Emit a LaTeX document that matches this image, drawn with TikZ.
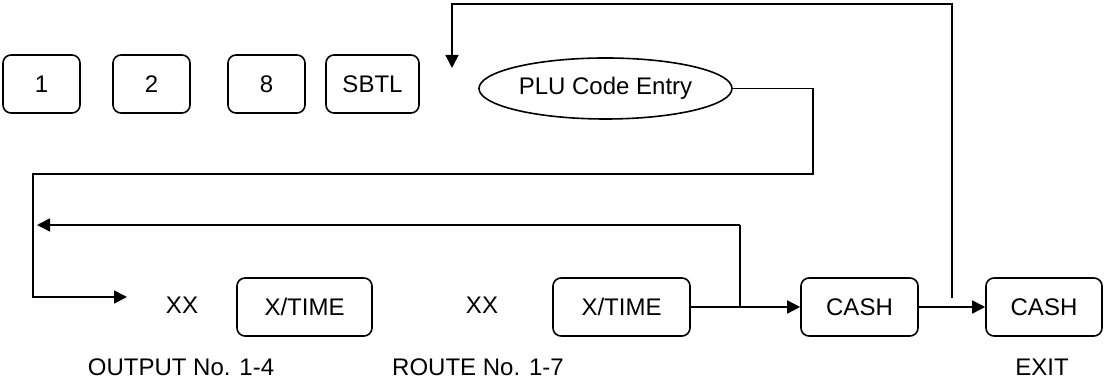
\documentclass[tikz,border=0pt]{standalone}
\usepackage{fontspec}
\setmainfont{Liberation Sans}
\usetikzlibrary{arrows.meta,shapes.geometric}
\tikzset{
  keybox/.style={draw, rounded corners=4pt, line width=0.8pt, minimum height=29pt, inner sep=0pt},
  plu/.style={draw, ellipse, line width=0.8pt, minimum width=126.5pt, minimum height=30.5pt, inner sep=0pt},
  flowline/.style={line width=0.8pt},
  flowarrow/.style={-{Triangle[length=6.5pt,width=6.5pt]}, line width=0.8pt}
}

\begin{document}
\begin{tikzpicture}[x=0.5pt, y=-0.5pt, every node/.style={font=\fontsize{12}{14}\selectfont}]
    \useasboundingbox (0,0) rectangle (1104,383);
    % keys on top
    \node[keybox, minimum width=38.5pt] (k1) at (41.5,84) {1};
    \node[keybox, minimum width=38.5pt] (k2) at (151.5,84) {2};
    \node[keybox, minimum width=38.5pt] (k8) at (266.5,84) {8};
    \node[keybox, minimum width=46.5pt] (sbtl) at (372.5,84) {SBTL};
    \node[plu] (plu) at (605.5,88.5) {PLU Code Entry};
    % bottom row
    \node (xx1) at (182,305) {XX};
    \node[keybox, minimum width=67.5pt] (xt1) at (304.5,307) {X/TIME};
    \node (xx2) at (482,305) {XX};
    \node[keybox, minimum width=68.5pt] (xt2) at (621.5,307) {X/TIME};
    \node[keybox, minimum width=58.5pt] (cash1) at (859.5,307) {CASH};
    \node[keybox, minimum width=58pt] (cash2) at (1044,307) {CASH};
    \node[anchor=base] (outlbl) at (181,376) {OUTPUT No. 1-4};
    \node[anchor=base] (routelbl) at (478,376) {ROUTE No. 1-7};
    \node[anchor=base] (exitlbl) at (1042,376) {EXIT};
    % corners and free ends
    \coordinate (entry) at (452,68);
    \coordinate (looptop) at (952,4);
    \coordinate (loopend) at (952,298);
    \coordinate (bend1) at (813,174);
    \coordinate (bend2) at (33,297);
    \coordinate (rowin) at (127,297);
    \coordinate (jn) at (740,225);
    \coordinate (backtip) at (37,225);
    \draw[flowarrow] (plu.east) -| (bend1) -| (bend2) -- (rowin);
    \draw[flowarrow] (jn) -- (backtip);
    \draw[flowline] (jn) -- (jn |- xt2.east);
    \draw[flowarrow] (xt2.east) -- (cash1.west);
    \draw[flowarrow] (cash1.east) -- (cash2.west);
    \draw[flowarrow] (loopend) -- (looptop) -| (entry);
  \end{tikzpicture}
\end{document}
